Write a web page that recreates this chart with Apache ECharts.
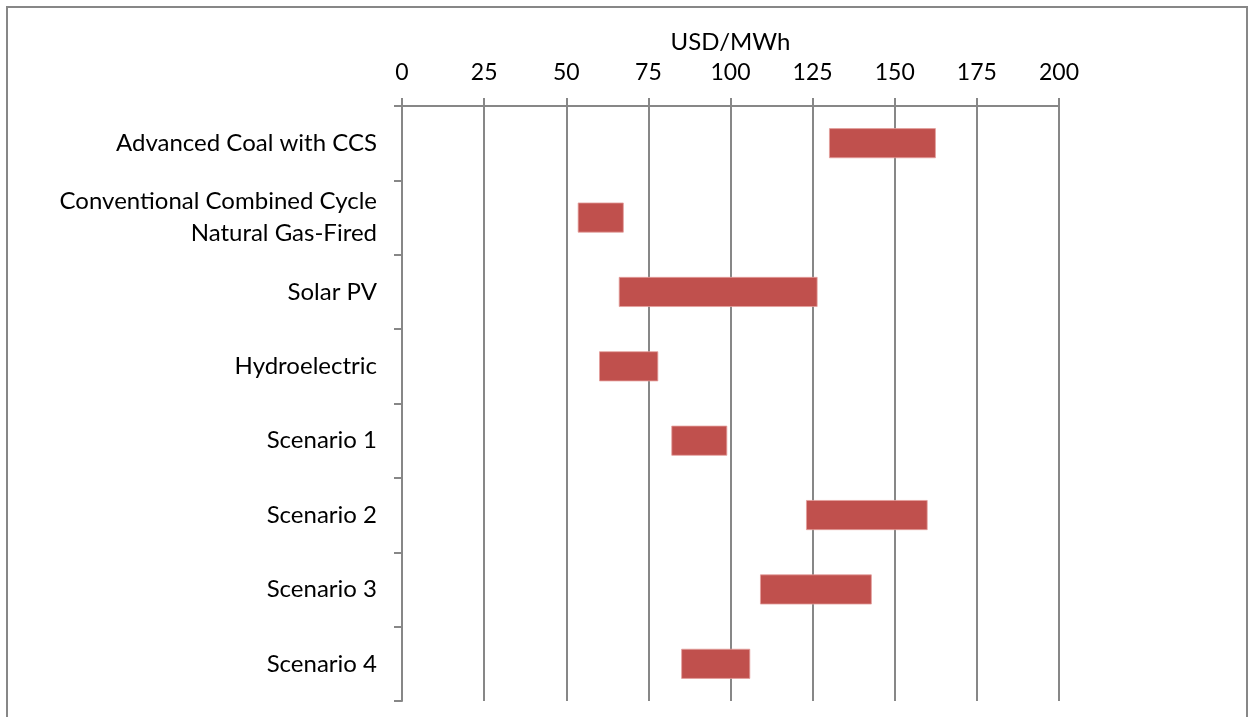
<!DOCTYPE html>
<html>
<head>
<meta charset="utf-8">
<script src="https://cdn.jsdelivr.net/npm/echarts@6/dist/echarts.min.js"></script>
<style>
  html, body { margin: 0; padding: 0; background: #ffffff; }
  #chart { width: 1254px; height: 717px; }
</style>
</head>
<body>
<div id="chart"></div>
<script>
// Levelized cost ranges by technology (USD/MWh)
const categories = [
  'Advanced Coal with CCS',
  'Conventional Combined Cycle\nNatural Gas-Fired',
  'Solar PV',
  'Hydroelectric',
  'Scenario 1',
  'Scenario 2',
  'Scenario 3',
  'Scenario 4'
];
const lowValues  = [130, 53.5, 66, 60, 82, 123, 109, 85];
const highValues = [162.5, 67.5, 126.5, 78, 99, 160, 143, 106];
const xTicks = [0, 25, 50, 75, 100, 125, 150, 175, 200];

const spanValues = highValues.map((h, i) => +(h - lowValues[i]).toFixed(2));

const gray = '#878787';
const font = 'Lato, "Open Sans", sans-serif';

const chart = echarts.init(document.getElementById('chart'), null, { renderer: 'canvas' });
chart.setOption({
  animation: false,
  backgroundColor: '#ffffff',
  graphic: [{
    type: 'rect',
    shape: { x: 7, y: 7, width: 1240, height: 730 },
    style: { fill: 'none', stroke: gray, lineWidth: 2 },
    silent: true
  }],
  grid: { left: 402, right: 195, top: 106, bottom: 16, containLabel: false },
  xAxis: {
    type: 'value',
    position: 'top',
    min: xTicks[0],
    max: xTicks[xTicks.length - 1],
    interval: xTicks[1] - xTicks[0],
    name: 'USD/MWh',
    nameLocation: 'middle',
    nameGap: 52,
    nameTextStyle: { fontFamily: font, fontSize: 24, color: '#000' },
    axisLine: { show: true, lineStyle: { color: gray, width: 2 } },
    axisTick: { show: true, inside: false, length: 8, lineStyle: { color: gray, width: 2 } },
    axisLabel: { margin: 22, fontFamily: font, fontSize: 23, color: '#000' },
    splitLine: { show: true, lineStyle: { color: gray, width: 2 } }
  },
  yAxis: {
    type: 'category',
    data: categories,
    inverse: true,
    axisLine: { show: true, lineStyle: { color: gray, width: 2 } },
    axisTick: { show: true, length: 8, lineStyle: { color: gray, width: 2 } },
    axisLabel: { margin: 25, fontFamily: font, fontSize: 24, color: '#000', lineHeight: 32, align: 'right' },
    splitLine: { show: false }
  },
  series: [
    {
      name: 'base',
      type: 'bar',
      stack: 'range',
      data: lowValues,
      itemStyle: { color: 'transparent' },
      barWidth: 30,
      silent: true
    },
    {
      name: 'range',
      type: 'bar',
      stack: 'range',
      data: spanValues,
      barWidth: 30,
      itemStyle: { color: '#C0504D', borderColor: '#E39E9C', borderWidth: 0.8 }
    }
  ]
});
</script>
</body>
</html>
